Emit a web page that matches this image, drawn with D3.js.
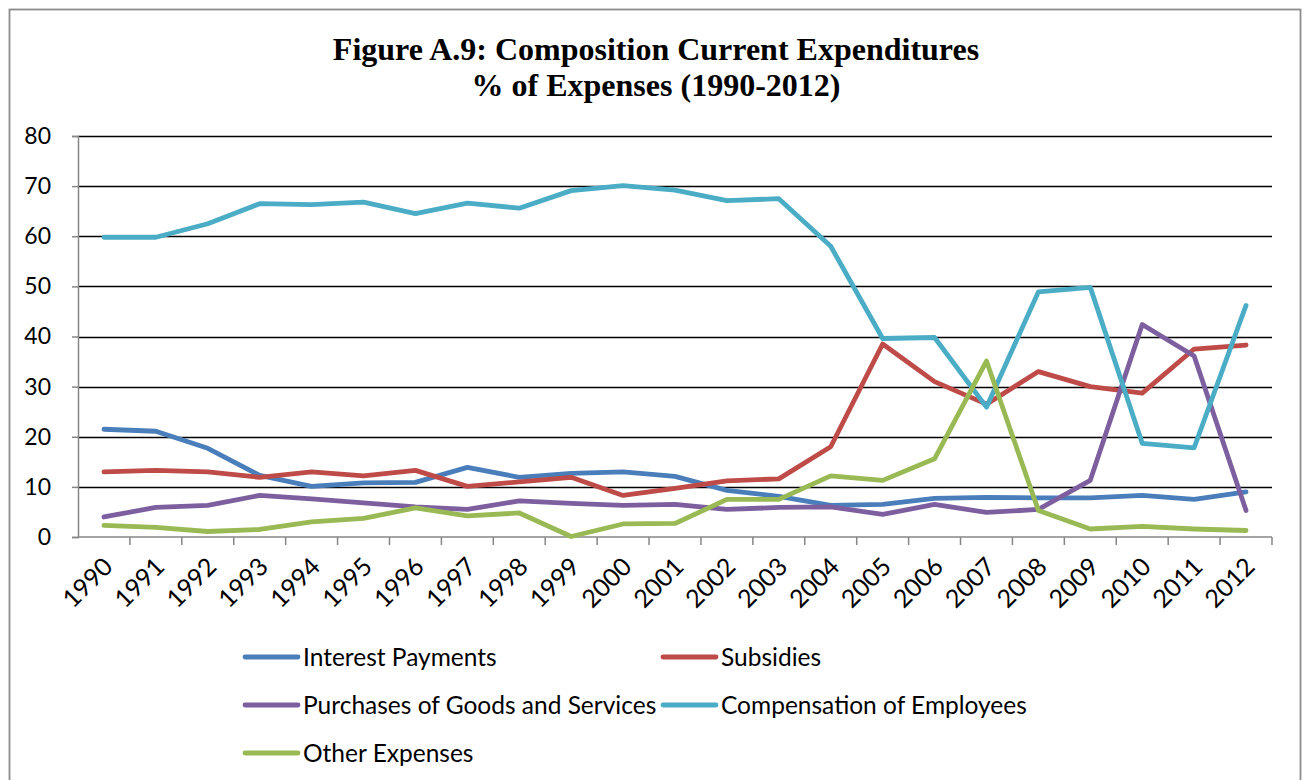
<!DOCTYPE html>
<html>
<head>
<meta charset="utf-8">
<script src="https://cdn.jsdelivr.net/npm/d3@7"></script>
<style>
  body { margin: 0; background: #fff; }
  svg text { font-family: Lato, "Open Sans", sans-serif; }
</style>
</head>
<body>
<div id="chart"></div>
<script>
// data
const years = d3.range(1990, 2013).map(String);
const interestPayments = [21.5, 21.1, 17.7, 12.3, 10.1, 10.8, 10.9, 13.9, 11.9, 12.7, 13.0, 12.1, 9.3, 8.1, 6.3, 6.5, 7.7, 7.9, 7.8, 7.8, 8.3, 7.5, 9.0];
const subsidies = [13.0, 13.3, 13.0, 11.9, 13.0, 12.2, 13.3, 10.1, 11.0, 11.9, 8.3, 9.7, 11.2, 11.6, 18.0, 38.5, 31.0, 26.5, 33.0, 30.0, 28.7, 37.5, 38.3];
const purchases = [4.0, 5.9, 6.3, 8.3, 7.6, 6.8, 6.0, 5.5, 7.2, 6.7, 6.3, 6.5, 5.5, 5.9, 6.0, 4.5, 6.5, 4.9, 5.5, 11.3, 42.4, 36.1, 5.3];
const compensation = [59.8, 59.8, 62.5, 66.5, 66.3, 66.8, 64.5, 66.6, 65.6, 69.1, 70.1, 69.2, 67.1, 67.5, 58.0, 39.6, 39.8, 25.9, 48.9, 49.8, 18.7, 17.8, 46.2];
const otherExpenses = [2.3, 1.9, 1.1, 1.5, 3.0, 3.7, 5.8, 4.2, 4.8, 0.1, 2.6, 2.7, 7.5, 7.5, 12.2, 11.3, 15.6, 35.1, 5.3, 1.6, 2.1, 1.6, 1.3];
const yTicks = [0, 10, 20, 30, 40, 50, 60, 70, 80];

const series = [
  { name: "Interest Payments", values: interestPayments, color: "#4a7ebb" },
  { name: "Subsidies", values: subsidies, color: "#be4b48" },
  { name: "Purchases of Goods and Services", values: purchases, color: "#7d5fa0" },
  { name: "Compensation of Employees", values: compensation, color: "#4bacc6" },
  { name: "Other Expenses", values: otherExpenses, color: "#98b954" }
];

const W = 1308, H = 780;
const plot = { left: 78, right: 1272, top: 136, bottom: 537 };

const svg = d3.select("#chart").append("svg")
  .attr("width", W)
  .attr("height", H);

// outer chart frame
svg.append("rect")
  .attr("x", 9.5).attr("y", 9.5)
  .attr("width", 1291).attr("height", 800)
  .attr("fill", "#fff")
  .attr("stroke", "#8c8c8c")
  .attr("stroke-width", 1.8);

// title
const title = svg.append("text")
  .attr("x", 656).attr("y", 60)
  .attr("text-anchor", "middle")
  .style("font-family", "'Liberation Serif', 'Times New Roman', serif")
  .style("font-weight", "bold")
  .style("font-size", "32px");
title.append("tspan").attr("x", 656).text("Figure A.9: Composition Current Expenditures");
title.append("tspan").attr("x", 656).attr("dy", 36).text("% of Expenses (1990-2012)");

////////////////////////////////////////////////////////////
/////////////////////// Scales /////////////////////////////
////////////////////////////////////////////////////////////

const x = d3.scaleBand()
  .domain(years)
  .range([plot.left, plot.right])
  .padding(0);

const y = d3.scaleLinear()
  .domain([0, 80])
  .range([plot.bottom, plot.top]);

// gridlines
svg.append("g")
  .selectAll("line")
  .data(yTicks.filter(d => d > 0))
  .enter().append("line")
  .attr("x1", plot.left).attr("x2", plot.right)
  .attr("y1", d => Math.round(y(d)) + 0.5)
  .attr("y2", d => Math.round(y(d)) + 0.5)
  .attr("stroke", "#000")
  .attr("stroke-width", 1.4);

// y axis
const yAxis = svg.append("g")
  .attr("transform", `translate(${plot.left},0)`)
  .call(d3.axisLeft(y).tickValues(yTicks).tickSize(6).tickPadding(21));
yAxis.select(".domain").attr("stroke", "#868686").attr("stroke-width", 1.5);
yAxis.selectAll(".tick line").attr("stroke", "#868686").attr("stroke-width", 1.5);
yAxis.selectAll("text")
  .style("font-family", "Lato, sans-serif")
  .style("font-size", "23px")
  .attr("fill", "#000");

// x axis: ticks sit on the band boundaries
const xAxis = svg.append("g")
  .attr("transform", `translate(0,${plot.bottom})`);
xAxis.append("line")
  .attr("x1", plot.left).attr("x2", plot.right)
  .attr("stroke", "#868686").attr("stroke-width", 1.5);
xAxis.selectAll("line.tick")
  .data(years.slice(1).concat(["end"]))
  .enter().append("line")
  .attr("class", "tick")
  .attr("x1", d => d === "end" ? plot.right : x(d))
  .attr("x2", d => d === "end" ? plot.right : x(d))
  .attr("y1", 0).attr("y2", 8)
  .attr("stroke", "#868686").attr("stroke-width", 1.5);
xAxis.selectAll("text")
  .data(years)
  .enter().append("text")
  .attr("transform", d => `translate(${x(d) + x.bandwidth() / 2 + 4},${25}) rotate(-45)`)
  .attr("text-anchor", "end")
  .attr("dy", "0.35em")
  .style("font-size", "25px")
  .text(d => d);

////////////////////////////////////////////////////////////
/////////////////////// Lines //////////////////////////////
////////////////////////////////////////////////////////////

const line = d3.line()
  .x((d, i) => x(years[i]) + x.bandwidth() / 2)
  .y(d => y(d));

svg.append("g")
  .selectAll("path")
  .data(series)
  .enter().append("path")
  .attr("d", d => line(d.values))
  .attr("fill", "none")
  .attr("stroke", d => d.color)
  .attr("stroke-width", 4.8)
  .attr("stroke-linejoin", "round")
  .attr("stroke-linecap", "round");

////////////////////////////////////////////////////////////
/////////////////////// Legend /////////////////////////////
////////////////////////////////////////////////////////////

const legendCols = [245, 663];
const legendRows = [657, 705, 753];

const legend = svg.append("g")
  .selectAll("g")
  .data(series)
  .enter().append("g")
  .attr("transform", (d, i) => `translate(${legendCols[i % 2]},${legendRows[Math.floor(i / 2)]})`);

legend.append("line")
  .attr("x1", 0).attr("x2", 53)
  .attr("stroke", d => d.color)
  .attr("stroke-width", 4.8)
  .attr("stroke-linecap", "round");

legend.append("text")
  .attr("x", 58)
  .attr("dy", "0.35em")
  .style("font-size", "24.5px")
  .text(d => d.name);
</script>
</body>
</html>
